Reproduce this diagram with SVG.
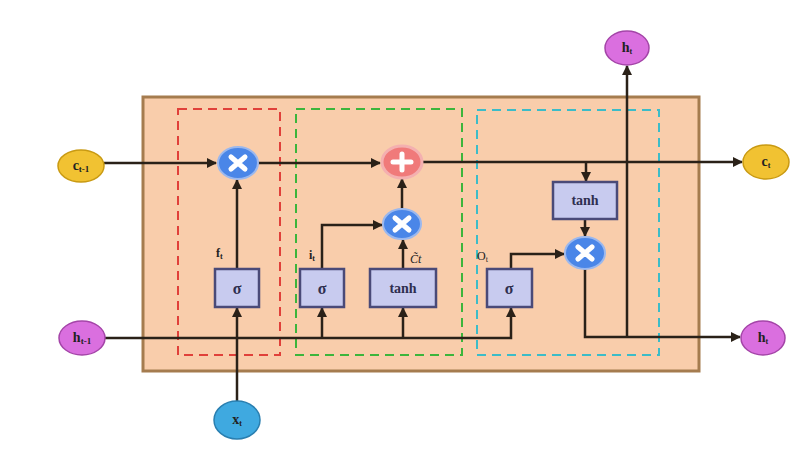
<svg xmlns="http://www.w3.org/2000/svg" width="800" height="453" viewBox="0 0 800 453">
<defs>
<marker id="arr" viewBox="0 0 10 10" refX="9" refY="5" markerWidth="4" markerHeight="4" orient="auto" markerUnits="strokeWidth">
<path d="M0,0 L10,5 L0,10 z" fill="#2a2118"/>
</marker>
<style>
.ln{fill:none;stroke:#2a2118;stroke-width:2.5}
.gate{fill:#c8cbef;stroke:#4a4a78;stroke-width:2.5}
.gt{font-family:"Liberation Serif",serif;font-weight:bold;fill:#2f2f4f;text-anchor:middle}
.mul{fill:#4a86e8;stroke:#9bb8ee;stroke-width:2}
.sym{stroke:#fff;stroke-width:5;stroke-linecap:round}
.lbl{font-family:"Liberation Serif",serif;font-weight:bold;font-size:14px;fill:#222;text-anchor:middle}
.sm{font-family:"Liberation Serif",serif;font-size:12px;fill:#222}
</style>
</defs>
<rect width="800" height="453" fill="#fff"/>
<rect x="143" y="97" width="556" height="274" fill="#f9cdab" stroke="#a57c4f" stroke-width="3"/>
<rect x="178" y="109" width="102" height="246" fill="none" stroke="#e0403a" stroke-width="2" stroke-dasharray="9,6"/>
<rect x="296" y="109" width="166" height="246" fill="none" stroke="#3cb53c" stroke-width="2" stroke-dasharray="9,6"/>
<rect x="477" y="110" width="182" height="245" fill="none" stroke="#3cbcc8" stroke-width="2" stroke-dasharray="9,6"/>

<g id="connectors">
<path class="ln" d="M104,163 H216" marker-end="url(#arr)"/>
<path class="ln" d="M258,163 H380" marker-end="url(#arr)"/>
<path class="ln" d="M422,162 H742" marker-end="url(#arr)"/>
<path class="ln" d="M586,162 V181" marker-end="url(#arr)"/>
<path class="ln" d="M585,219 V236" marker-end="url(#arr)"/>
<path class="ln" d="M105,338 H511 V308" marker-end="url(#arr)"/>
<path class="ln" d="M237,401 V308" marker-end="url(#arr)"/>
<path class="ln" d="M237,269 V180" marker-end="url(#arr)"/>
<path class="ln" d="M322,338 V308" marker-end="url(#arr)"/>
<path class="ln" d="M403,338 V308" marker-end="url(#arr)"/>
<path class="ln" d="M322,269 V225 H382" marker-end="url(#arr)"/>
<path class="ln" d="M403,269 V240" marker-end="url(#arr)"/>
<path class="ln" d="M402,208 V179" marker-end="url(#arr)"/>
<path class="ln" d="M511,269 V254 H564" marker-end="url(#arr)"/>
<path class="ln" d="M585,269 V337 H740" marker-end="url(#arr)"/>
<path class="ln" d="M627,337 V66" marker-end="url(#arr)"/>
</g>

<g id="c_prev"><ellipse cx="81" cy="166" rx="23" ry="16" fill="#f1c232" stroke="#c99a12" stroke-width="1.5"/><text class="lbl" x="81" y="170">c<tspan font-size="9" dy="2">t-1</tspan></text></g>
<g id="h_prev"><ellipse cx="82" cy="338" rx="23" ry="17" fill="#da6fdf" stroke="#a445a8" stroke-width="1.5"/><text class="lbl" x="82" y="342">h<tspan font-size="9" dy="2">t-1</tspan></text></g>
<g id="x_t"><ellipse cx="237" cy="420" rx="23" ry="19" fill="#3fa9e0" stroke="#2a7fb0" stroke-width="1.5"/><text class="lbl" x="237" y="424" font-weight="normal">x<tspan font-size="8" dy="2">t</tspan></text></g>
<g id="h_top"><ellipse cx="627" cy="48" rx="22" ry="17" fill="#da6fdf" stroke="#a445a8" stroke-width="1.5"/><text class="lbl" x="627" y="52">h<tspan font-size="8" dy="2">t</tspan></text></g>
<g id="c_t"><ellipse cx="766" cy="162" rx="23" ry="17" fill="#f1c232" stroke="#c99a12" stroke-width="1.5"/><text class="lbl" x="766" y="166">c<tspan font-size="8" dy="2">t</tspan></text></g>
<g id="h_t"><ellipse cx="763" cy="338" rx="22" ry="17" fill="#da6fdf" stroke="#a445a8" stroke-width="1.5"/><text class="lbl" x="763" y="342">h<tspan font-size="8" dy="2">t</tspan></text></g>

<g id="mul_f"><ellipse class="mul" cx="238" cy="163" rx="20" ry="16"/><path class="sym" d="M231,157 L245,169 M245,157 L231,169"/></g>
<g id="plus"><ellipse cx="402" cy="162" rx="20" ry="16" fill="#f07a7a" stroke="#f4b0b0" stroke-width="3"/><path class="sym" d="M402,154 V170 M393,162 H411"/></g>
<g id="mul_i"><ellipse class="mul" cx="402" cy="224" rx="19" ry="15"/><path class="sym" d="M395,218 L409,230 M409,218 L395,230"/></g>
<g id="mul_o"><ellipse class="mul" cx="585" cy="253" rx="20" ry="16"/><path class="sym" d="M578,247 L592,259 M592,247 L578,259"/></g>

<g id="sig_f"><rect class="gate" x="215" y="269" width="44" height="38"/><text class="gt" x="237" y="294" font-size="16">σ</text><text class="sm" x="216" y="257" font-weight="bold">f<tspan font-size="8" dy="2">t</tspan></text></g>
<g id="sig_i"><rect class="gate" x="300" y="269" width="44" height="38"/><text class="gt" x="322" y="294" font-size="16">σ</text><text class="sm" x="309" y="259" font-weight="bold">i<tspan font-size="8" dy="2">t</tspan></text></g>
<g id="tanh_c"><rect class="gate" x="370" y="269" width="66" height="38"/><text class="gt" x="403" y="293" font-size="14">tanh</text><text class="sm" x="410" y="263" font-style="italic" font-size="15">C&#x303;t</text></g>
<g id="sig_o"><rect class="gate" x="487" y="269" width="45" height="38"/><text class="gt" x="509" y="294" font-size="16">σ</text><text class="sm" x="477" y="260" font-size="13">O<tspan font-size="8" dy="2">t</tspan></text></g>
<g id="tanh_o"><rect class="gate" x="553" y="182" width="64" height="37"/><text class="gt" x="585" y="205" font-size="14">tanh</text></g>
</svg>
